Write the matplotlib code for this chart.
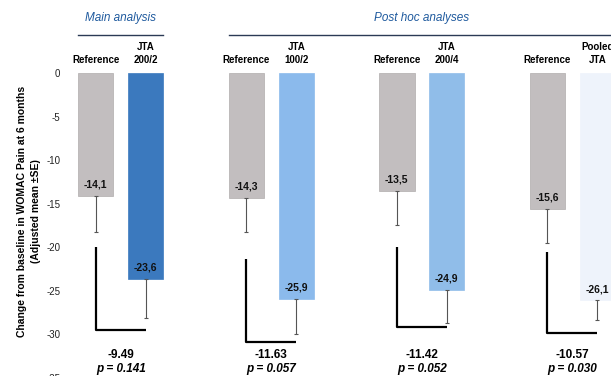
import matplotlib
matplotlib.use("Agg")
import matplotlib.pyplot as plt

# ---- data ----
ref_labels = ["Reference", "Reference", "Reference", "Reference"]
jta_labels = ["JTA\n200/2", "JTA\n100/2", "JTA\n200/4", "Pooled\nJTA"]
ref_means = [-14.1, -14.3, -13.5, -15.6]
jta_means = [-23.6, -25.9, -24.9, -26.1]
ref_se = [4.2, 3.9, 4.0, 3.9]
jta_se = [4.5, 4.1, 3.8, 2.3]
bracket_top = [-20.0, -21.4, -20.0, -20.5]
bracket_bottom = [-29.5, -30.9, -29.2, -29.8]
diff_labels = ["-9.49", "-11.63", "-11.42", "-10.57"]
p_values = ["0.141", "0.057", "0.052", "0.030"]
yticks = [0, -5, -10, -15, -20, -25, -30, -35]

ref_color = "#c2bebf"
jta_colors = ["#3b79be", "#8bbaec", "#90bde9", "#eef3fb"]
header_color = "#1f5a9e"

plt.rcParams['font.family'] = ['Liberation Sans Narrow', 'Liberation Sans', 'DejaVu Sans']

fig = plt.figure(figsize=(6.11, 3.76), dpi=100)
ax = fig.add_axes([66 / 611, -0.0053, 545 / 611, 0.8112])
ax.set_xlim(-0.364, 3.257)
ax.set_ylim(-35, 0)

off = 0.166
w = 0.235
n = len(ref_means)
ref_x = [i - off for i in range(n)]
jta_x = [i + off for i in range(n)]

ax.bar(ref_x, ref_means, width=w, color=ref_color, edgecolor="#b0acad", linewidth=0.5, zorder=2)
ax.bar(jta_x, jta_means, width=w, color=jta_colors, edgecolor=jta_colors, linewidth=0.5, zorder=2)

# one-sided (downward) error bars
ax.errorbar(ref_x, ref_means, yerr=[ref_se, [0] * n], fmt="none", ecolor="#555555",
            elinewidth=0.8, capsize=1.5, capthick=0.8, zorder=3)
ax.errorbar(jta_x, jta_means, yerr=[jta_se, [0] * n], fmt="none", ecolor="#555555",
            elinewidth=0.8, capsize=1.5, capthick=0.8, zorder=3)

for i in range(n):
    ax.text(ref_x[i], ref_means[i] + 1.3, f"{ref_means[i]:.1f}".replace(".", ","),
            ha="center", va="center", fontsize=7.5, fontweight="bold", color="#111111", zorder=4)
    ax.text(jta_x[i], jta_means[i] + 1.3, f"{jta_means[i]:.1f}".replace(".", ","),
            ha="center", va="center", fontsize=7.5, fontweight="bold", color="#111111", zorder=4)
    # bracket
    ax.plot([ref_x[i], ref_x[i], jta_x[i]], [bracket_top[i], bracket_bottom[i], bracket_bottom[i]],
            color="black", lw=1.6, solid_capstyle="butt", zorder=3, clip_on=False)
    # difference text
    ax.text(i, -32.4, diff_labels[i], ha="center", va="center", fontsize=8.5,
            fontweight="bold", color="black")
    ax.text(i, -33.95, f"p = {p_values[i]}", ha="center", va="center", fontsize=8.5,
            fontweight="bold", fontstyle="italic", color="black")
    # category labels
    ax.text(ref_x[i], 1.5, ref_labels[i], ha="center", va="center", fontsize=7,
            fontweight="bold", color="black")
    ax.text(jta_x[i], 2.25, jta_labels[i], ha="center", va="center", fontsize=7,
            fontweight="bold", color="black", linespacing=1.45)

# headers
ax.text(0, 6.3, "Main analysis", ha="center", va="center", fontsize=8.5,
        fontstyle="italic", color=header_color, family=['Liberation Sans', 'DejaVu Sans'])
ax.plot([ref_x[0] - w / 2, jta_x[0] + w / 2], [4.4, 4.4], color="#2b3a55", lw=1.0, clip_on=False)
ax.text(2.0, 6.3, "Post hoc analyses", ha="center", va="center", fontsize=8.5,
        fontstyle="italic", color=header_color, family=['Liberation Sans', 'DejaVu Sans'])
ax.plot([ref_x[1] - w / 2, 3.257], [4.4, 4.4], color="#2b3a55", lw=1.0, clip_on=False)

# axes styling
for s in ax.spines.values():
    s.set_visible(False)
ax.set_xticks([])
ax.set_yticks(yticks)
ax.set_yticklabels([str(t) for t in yticks])
ax.tick_params(axis="y", length=0, pad=4, labelsize=7, labelcolor="#222222")

fig.text(29 / 611, 1 - 211 / 376,
         "Change from baseline in WOMAC Pain at 6 months\n(Adjusted mean \u00b1SE)",
         rotation=90, ha="center", va="center", fontsize=7.5, fontweight="bold",
         multialignment="center", linespacing=1.6)

fig.savefig("out.png", dpi=100)
